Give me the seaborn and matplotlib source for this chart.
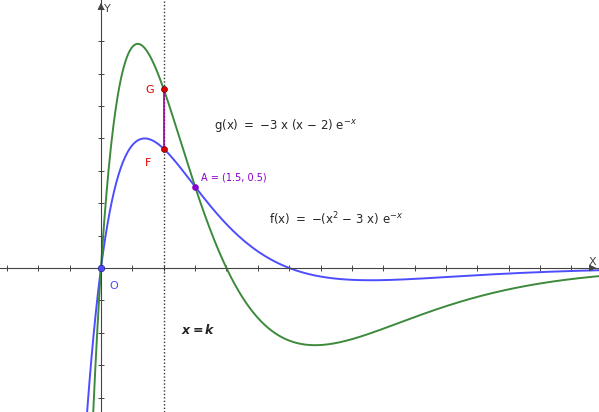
import numpy as np
import pandas as pd
import matplotlib
matplotlib.use("Agg")
import matplotlib.pyplot as plt
import seaborn as sns

sns.set_style("white")
plt.rcParams['font.family'] = ['DejaVu Sans']

x_min, x_max = -1.61, 7.94
y_min, y_max = -0.889, 1.654
k = 1.0
A_point = (1.5, 0.5)
xs = np.linspace(x_min, x_max, 800)
f_vals = -(xs**2 - 3*xs) * np.exp(-xs)
g_vals = -3*xs*(xs - 2) * np.exp(-xs)
df = pd.DataFrame({"x": np.concatenate([xs, xs]),
                   "y": np.concatenate([f_vals, g_vals]),
                   "fn": ["f"]*len(xs) + ["g"]*len(xs)})

fig = plt.figure(figsize=(5.99, 4.12), dpi=100)
ax = fig.add_axes([0, 0, 1, 1])
sns.lineplot(data=df, x="x", y="y", hue="fn", palette={"f": "#4d4dff", "g": "#3d8a3d"},
             legend=False, ax=ax, linewidth=1.4, sort=False, estimator=None)
ax.set_xlim(x_min, x_max)
ax.set_ylim(y_min, y_max)
ax.set_xlabel(""); ax.set_ylabel("")
for s in ["top", "right"]:
    ax.spines[s].set_visible(False)
ax.spines["left"].set_position(("data", 0))
ax.spines["bottom"].set_position(("data", 0))
ax.spines["left"].set_color("#444444")
ax.spines["bottom"].set_color("#444444")
ax.set_xticks([v for v in np.arange(-1.5, 8, 0.5) if abs(v) > 1e-9])
ax.set_yticks([v for v in np.arange(-0.8, 1.7, 0.2) if abs(v) > 1e-9])
ax.tick_params(bottom=True, left=True, direction="inout", length=5, width=0.7, color="#444444",
               labelbottom=False, labelleft=False)
ax.annotate("", xy=(x_max, 0), xytext=(x_max - 0.15, 0),
            arrowprops=dict(arrowstyle="-|>", color="#444444", lw=0.7))
ax.annotate("", xy=(0, y_max), xytext=(0, y_max - 0.05),
            arrowprops=dict(arrowstyle="-|>", color="#444444", lw=0.7))
ax.text(7.78, 0.02, "X", fontsize=8, color="#444444")
ax.text(0.05, 1.58, "Y", fontsize=8, color="#444444")

ax.axvline(k, color="#333333", linestyle=(0, (1, 1.5)), lw=1)
F = -(k**2 - 3*k)*np.exp(-k); G = -3*k*(k-2)*np.exp(-k)
ax.plot([k, k], [F, G], color="#990099", lw=1.2)
ax.scatter([k, k], [F, G], color="#dd0000", s=18, zorder=5, edgecolor="#660000", linewidth=0.5)
ax.scatter([A_point[0]], [A_point[1]], color="#8800cc", s=14, zorder=5)
ax.scatter([0], [0], color="#4d4dff", s=22, zorder=5, edgecolor="#222288", linewidth=0.5)
ax.text(0.70, 1.08, "G", color="#dd0000", fontsize=8)
ax.text(0.70, 0.63, "F", color="#dd0000", fontsize=8)
ax.text(0.14, -0.13, "O", color="#4d4dff", fontsize=8)
ax.text(1.6, 0.54, "A = (1.5, 0.5)", color="#8800cc", fontsize=7)
ax.text(1.80, 0.86, r"g(x) $=$ $-3$ x (x $-$ 2) e$^{-x}$", fontsize=8.5)
ax.text(2.68, 0.27, r"f(x) $=$ $-$(x$^2$ $-$ 3 x) e$^{-x}$", fontsize=8.5)
ax.text(1.27, -0.41, r"$\boldsymbol{x = k}$", fontsize=9)

fig.savefig("out.png", dpi=100)
